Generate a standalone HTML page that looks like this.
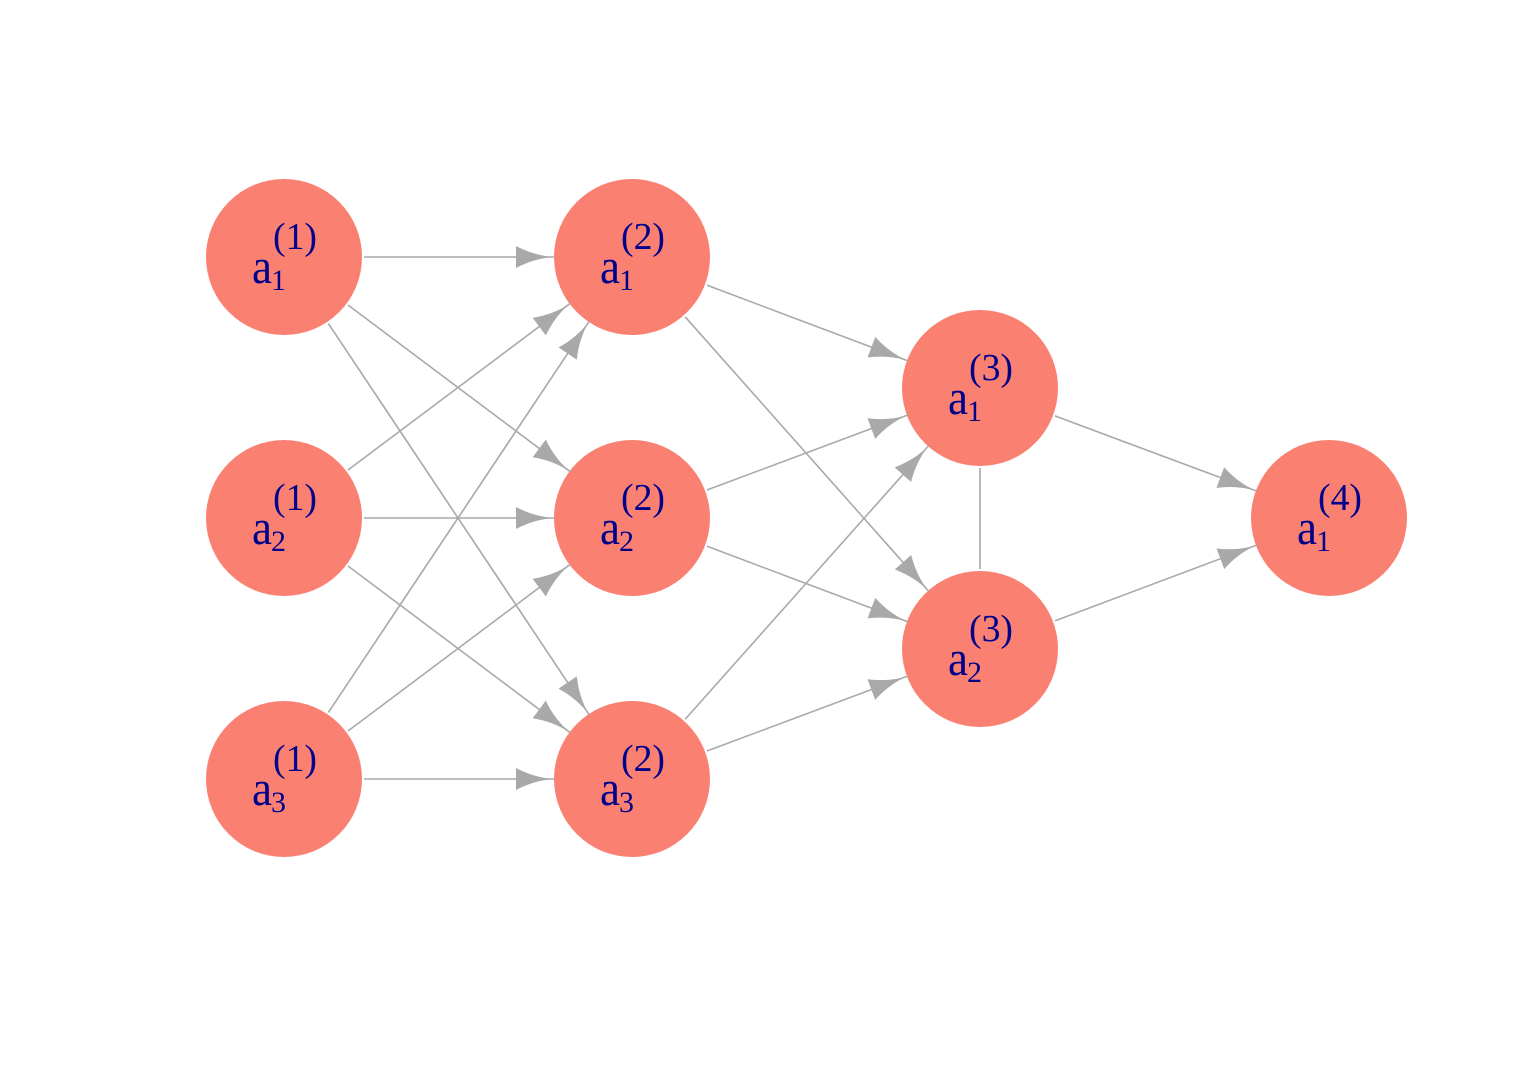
<!DOCTYPE html>
<html><head><meta charset="utf-8"><style>body{margin:0;background:#fff}svg{display:block}</style></head>
<body>
<svg width="1536" height="1075" viewBox="0 0 1536 1075" xmlns="http://www.w3.org/2000/svg" font-family="Liberation Serif, serif" fill="#00008b">
<defs>
<marker id="ar" viewBox="-40 -12 42 24" refX="0" refY="0" markerWidth="42" markerHeight="24" markerUnits="userSpaceOnUse" orient="auto">
<path d="M0,0 Q-20,-1 -39,-11 L-39,11 Q-20,1 0,0 Z" fill="#a9a9a9"/>
</marker>
</defs>
<g id="nodes"></g>
<g id="edges" stroke="#a9a9a9" stroke-width="1.6" fill="none"></g>
<g id="labels"></g>
<script>
var R=78, N={
'11':[284,257],'21':[284,518],'31':[284,779],
'12':[632,257],'22':[632,518],'32':[632,779],
'13':[980,388],'23':[980,649],'14':[1329,518]};
var E=[];
['11','21','31'].forEach(a=>['12','22','32'].forEach(b=>E.push([a,b,1])));
['12','22','32'].forEach(a=>['13','23'].forEach(b=>E.push([a,b,1])));
E.push(['13','14',1],['23','14',1],['13','23',0]);
var ns='http://www.w3.org/2000/svg',eg=document.getElementById('edges'),ng=document.getElementById('nodes'),lg=document.getElementById('labels');
E.forEach(function(e){var p=N[e[0]],q=N[e[1]],dx=q[0]-p[0],dy=q[1]-p[1],L=Math.hypot(dx,dy),ux=dx/L,uy=dy/L;
var l=document.createElementNS(ns,'line');
l.setAttribute('x1',p[0]+ux*(R+2));l.setAttribute('y1',p[1]+uy*(R+2));
var off=e[2]?R-1:R+2;
l.setAttribute('x2',q[0]-ux*off);l.setAttribute('y2',q[1]-uy*off);
if(e[2])l.setAttribute('marker-end','url(#ar)');eg.appendChild(l);});
function tx(x,y,sz,str,tl){var el=document.createElementNS(ns,'text');el.setAttribute('x',x);el.setAttribute('y',y);el.setAttribute('font-size',sz+'px');if(tl){el.setAttribute('textLength',tl);el.setAttribute('lengthAdjust','spacingAndGlyphs');}el.textContent=str;lg.appendChild(el);}
for(var k in N){var c=N[k],s=k[0],t=k[1];
var ci=document.createElementNS(ns,'circle');ci.setAttribute('cx',c[0]);ci.setAttribute('cy',c[1]);ci.setAttribute('r',R);ci.setAttribute('fill','#fa8072');ng.appendChild(ci);
tx(c[0]-32,c[1]+26,50,'a',20);tx(c[0]-13,c[1]+33,30,s);tx(c[0]-11,c[1]-8,38,'('+t+')',44);}
</script>
</svg>
</body></html>
